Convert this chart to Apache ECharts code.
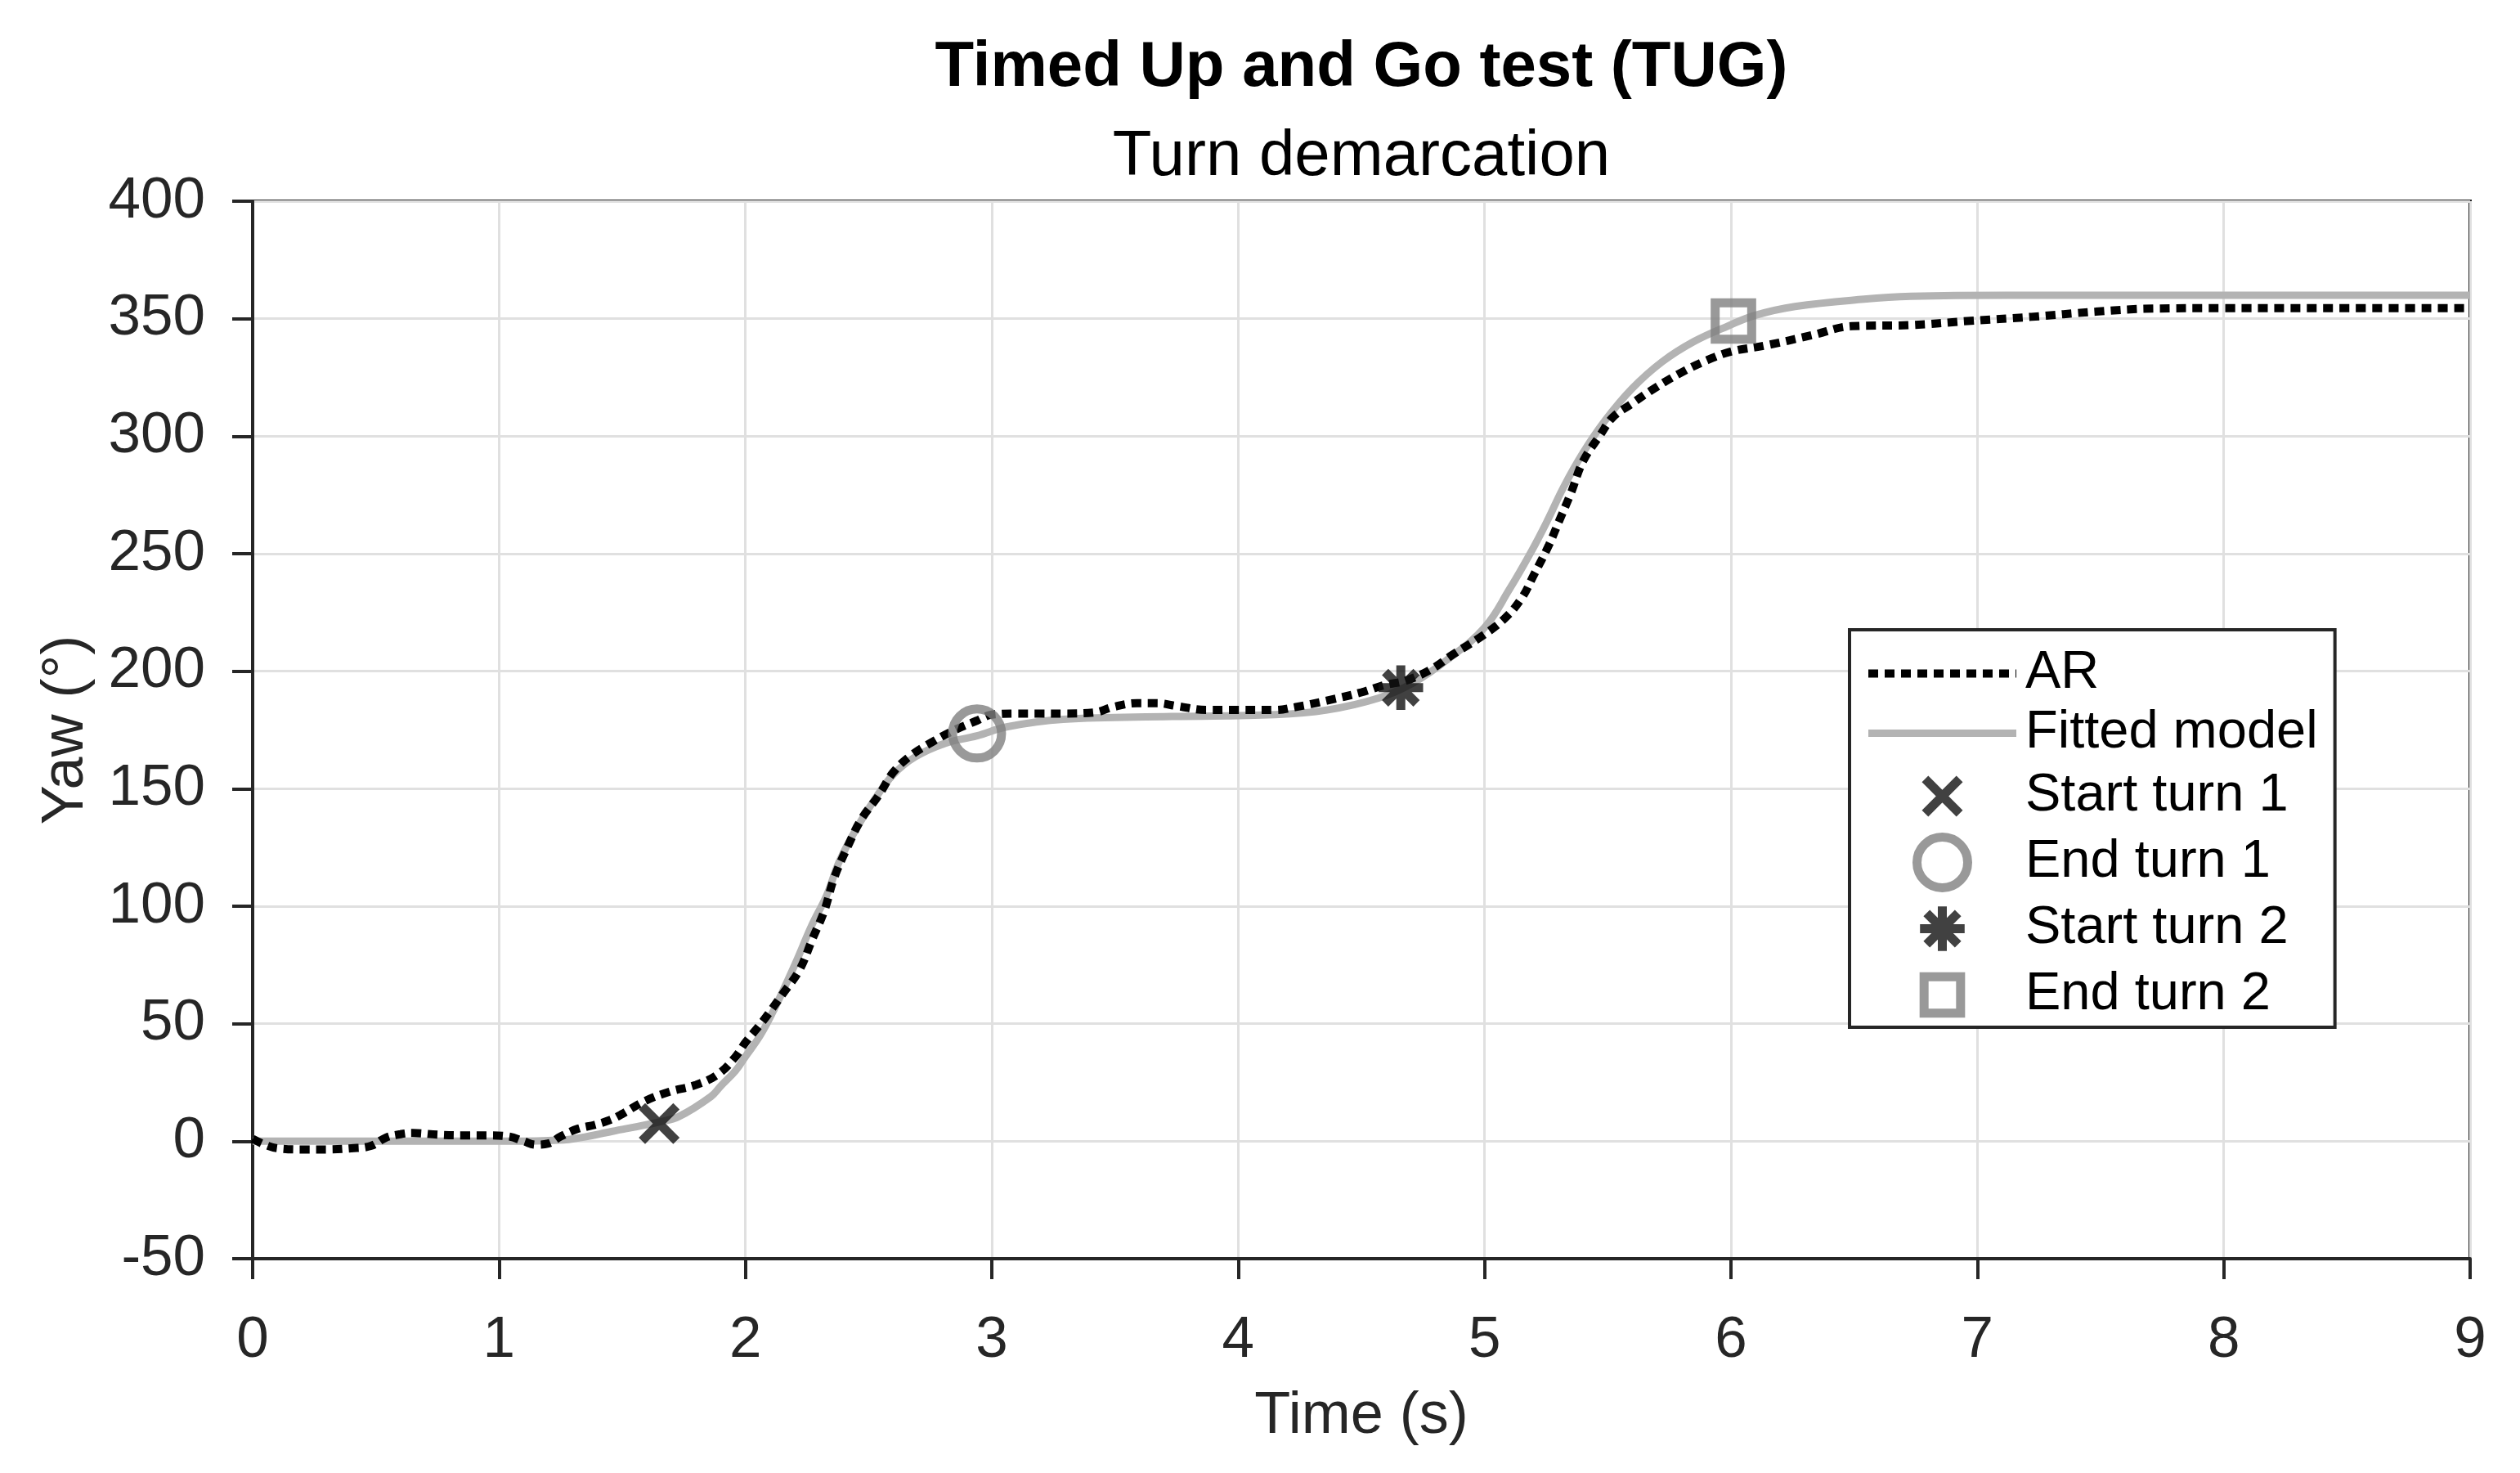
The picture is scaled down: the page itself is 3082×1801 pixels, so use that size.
<!DOCTYPE html>
<html>
<head>
<meta charset="utf-8">
<script src="https://cdn.jsdelivr.net/npm/echarts@6/dist/echarts.min.js"></script>
<style>
html,body{margin:0;padding:0;background:#fff;}
#chart{width:3082px;height:1801px;}
</style>
</head>
<body>
<div id="chart"></div>
<script>
// ---- Data ----
const arTime = [0,0.05,0.1,0.2,0.3,0.4,0.48,0.54,0.6,0.65,
  0.75,0.85,0.95,1.04,1.1,1.15,1.2,1.25,1.32,1.39,
  1.45,1.5,1.59,1.69,1.8,1.89,1.96,2.0,2.07,2.15,
  2.22,2.27,2.32,2.36,2.42,2.47,2.54,2.6,2.67,2.76,
  2.85,2.94,3.0,3.1,3.2,3.3,3.42,3.49,3.59,3.67,
  3.75,3.87,4.0,4.15,4.23,4.36,4.5,4.59,4.68,4.78,
  4.87,4.99,5.08,5.15,5.2,5.26,5.3,5.35,5.4,5.47,
  5.52,5.6,5.69,5.79,5.9,6.0,6.14,6.33,6.49,6.73,
  6.96,7.22,7.48,7.71,8.0,8.5,9.0];
const arYaw = [1,-1.5,-3,-3.5,-3.5,-3,-2,1.5,3,3.5,
  2.8,2.5,2.5,2,0,-1.5,-1,2,5.3,7,
  9,11.6,17,21,24,28.6,36,42,51,62.5,
  73,85.6,98,112,126.5,137,147,157,164,170,
  175,179,181.5,182,182,182,182.5,184.7,186.4,186.4,
  185.2,183.5,183.5,183.5,184.7,187.5,191,194,196,200.6,
  207,215,222.3,231,241,253.4,263.3,275.7,289.4,300.6,
  308,314,320.4,326.6,332.2,336,338.6,343,346.8,347.3,
  349,350.8,353,354.3,354.5,354.5,354.5];

const fitTime = [0,0.5,1.0,1.2,1.3,1.46,1.65,1.73,1.86,1.9,
  1.96,2.0,2.06,2.116,2.2,2.27,2.33,2.38,2.45,2.526,
  2.6,2.69,2.81,2.94,3.06,3.29,3.73,4.15,4.36,4.57,
  4.71,4.85,5.0,5.1,5.19,5.257,5.32,5.4,5.49,5.6,
  5.72,5.85,5.99,6.1,6.26,6.54,6.73,7.12,8.0,9.0];
const fitYaw = [0,0,0,0.3,1,4.2,8.2,10.5,19,23.5,
  30,36,45,56,75,92,104.7,118.8,133,145.7,
  156,163.6,169.3,172.5,176.3,179.5,180.7,181.5,183.5,188.6,
  195,205,218.6,234.7,251,264.5,278.2,293,306.8,320.4,
  331.6,340.3,347,351.5,355.2,358.3,359.5,360,360,360];

const startTurn1 = [1.65, 7.5];
const endTurn1 = [2.94, 173.5];
const startTurn2 = [4.66, 193];
const endTurn2 = [6.01, 349];

const seriesNames = ['AR', 'Fitted model', 'Start turn 1', 'End turn 1', 'Start turn 2', 'End turn 2'];
const xTicks = [0,1,2,3,4,5,6,7,8,9];
const yTicks = [-50,0,50,100,150,200,250,300,350,400];

// ---- Build ----
const pairs = (xs, ys) => xs.map((x, i) => [x, ys[i]]);
const FONT = '"Liberation Sans", Arial, Helvetica, sans-serif';
const AXIS_COLOR = '#262626';

const xPath = 'path://M0,0M10,10M1.6,1.6L8.4,8.4M8.4,1.6L1.6,8.4';
const starPath = 'path://M0,0M10,10M5,0.6L5,9.4M0.6,5L9.4,5M1.9,1.9L8.1,8.1M8.1,1.9L1.9,8.1';
const squarePath = 'path://M0,0M10,10M1.4,1.4L8.6,1.4L8.6,8.6L1.4,8.6Z';

const chart = echarts.init(document.getElementById('chart'), null, {renderer: 'canvas'});
const option = {
  animation: false,
  backgroundColor: '#ffffff',
  title: [
    {text: 'Timed Up and Go test (TUG)', left: 1665, top: 38, textAlign: 'center', padding: 0,
     textStyle: {fontFamily: FONT, fontSize: 78, fontWeight: 'bold', color: '#000', lineHeight: 90}},
    {text: 'Turn demarcation', left: 1665, top: 147, textAlign: 'center', padding: 0,
     textStyle: {fontFamily: FONT, fontSize: 78, fontWeight: 'normal', color: '#000', lineHeight: 90}}
  ],
  grid: {left: 309, right: 61, top: 246, bottom: 262, show: true, borderColor: AXIS_COLOR, borderWidth: 4, backgroundColor: 'transparent'},
  legend: {
    data: seriesNames,
    orient: 'vertical',
    left: 2262, top: 770,
    padding: [21, 21, 3, 18],
    itemWidth: 181, itemHeight: 62, itemGap: 8,
    backgroundColor: '#ffffff',
    borderColor: AXIS_COLOR, borderWidth: 4, borderRadius: 0,
    selectedMode: false,
    textStyle: {fontFamily: FONT, fontSize: 65, color: '#000', lineHeight: 62, padding: [0, 0, 0, 6]},
    itemStyle: {borderWidth: 'inherit'},
    lineStyle: {width: 'inherit'}
  },
  xAxis: {
    type: 'value', min: 0, max: 9, interval: 1,
    name: 'Time (s)', nameLocation: 'middle', nameGap: 157,
    nameTextStyle: {fontFamily: FONT, fontSize: 72, color: AXIS_COLOR},
    axisLine: {onZero: false, lineStyle: {color: AXIS_COLOR, width: 4}},
    axisTick: {show: true, length: 25, lineStyle: {color: AXIS_COLOR, width: 4}},
    axisLabel: {fontFamily: FONT, fontSize: 71, color: AXIS_COLOR, margin: 65,
      formatter: v => xTicks.includes(v) ? String(v) : ''},
    splitLine: {show: true, lineStyle: {color: '#e0e0e0', width: 3}}
  },
  yAxis: {
    type: 'value', min: -50, max: 400, interval: 50,
    name: 'Yaw (°)', nameLocation: 'middle', nameGap: 192,
    nameTextStyle: {fontFamily: FONT, fontSize: 72, color: AXIS_COLOR},
    axisLine: {lineStyle: {color: AXIS_COLOR, width: 4}},
    axisTick: {show: true, length: 25, lineStyle: {color: AXIS_COLOR, width: 4}},
    axisLabel: {fontFamily: FONT, fontSize: 71, color: AXIS_COLOR, margin: 58,
      formatter: v => yTicks.includes(v) ? String(v) : ''},
    splitLine: {show: true, lineStyle: {color: '#e0e0e0', width: 3}}
  },
  series: [
    {name: 'AR', type: 'line', data: pairs(arTime, arYaw), z: 3,
     smooth: 0.4, symbol: 'none', showSymbol: false,
     itemStyle: {color: 'rgba(0,0,0,0)', borderWidth: 0},
     lineStyle: {color: '#000000', width: 10, type: [12, 8], cap: 'butt'}},
    {name: 'Fitted model', type: 'line', data: pairs(fitTime, fitYaw), z: 2,
     smooth: 0.4, symbol: 'none', showSymbol: false,
     itemStyle: {color: 'rgba(0,0,0,0)', borderWidth: 0},
     lineStyle: {color: '#b3b3b3', width: 9, type: 'solid'}},
    {name: 'Start turn 1', type: 'scatter', data: [startTurn1], z: 5,
     symbol: xPath, symbolSize: 62,
     itemStyle: {color: '#111111', borderColor: '#111111', borderWidth: 11}},
    {name: 'End turn 1', type: 'scatter', data: [endTurn1], z: 5,
     symbol: 'circle', symbolSize: 60,
     itemStyle: {color: 'rgba(0,0,0,0)', borderColor: '#808080', borderWidth: 11}},
    {name: 'Start turn 2', type: 'scatter', data: [startTurn2], z: 5,
     symbol: starPath, symbolSize: 62,
     itemStyle: {color: '#111111', borderColor: '#111111', borderWidth: 11}},
    {name: 'End turn 2', type: 'scatter', data: [endTurn2], z: 5,
     symbol: squarePath, symbolSize: 62,
     itemStyle: {color: 'rgba(0,0,0,0)', borderColor: '#808080', borderWidth: 11}}
  ]
};
chart.setOption(option);
</script>
</body>
</html>
